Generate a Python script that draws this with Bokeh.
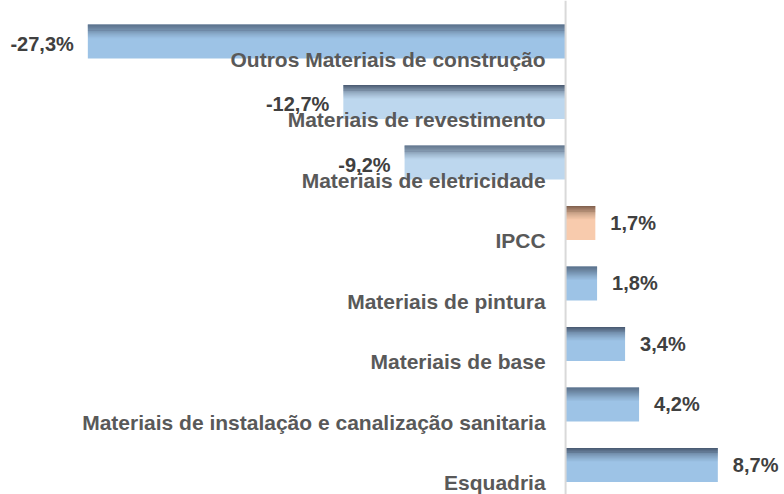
import numpy as np
from bokeh.plotting import figure
from bokeh.models import Range1d, Span
from bokeh.core.properties import value
from bokeh.embed import file_html
from bokeh.resources import INLINE

categories = ["Outros Materiais de construção", "Materiais de revestimento",
              "Materiais de eletricidade", "IPCC", "Materiais de pintura",
              "Materiais de base", "Materiais de instalação e canalização sanitaria",
              "Esquadria"]
values = [-27.3, -12.7, -9.2, 1.7, 1.8, 3.4, 4.2, 8.7]
labels = ["-27,3%", "-12,7%", "-9,2%", "1,7%", "1,8%", "3,4%", "4,2%", "8,7%"]
base_colors = ["#9dc3e6", "#bdd7ee", "#bdd7ee", "#f8cbad", "#9dc3e6", "#9dc3e6", "#9dc3e6", "#9dc3e6"]
top_colors = ["#44546a", "#44546a", "#44546a", "#7a5a48", "#44546a", "#44546a", "#44546a", "#44546a"]

ys = np.arange(len(categories))
H = 0.56

p = figure(width=784, height=494, output_backend="svg", toolbar_location=None,
           x_range=Range1d(-32.29, 12.51), y_range=Range1d(7.488, -0.678),
           min_border=0, outline_line_color=None)
p.axis.visible = False
p.grid.visible = False

# zero axis
p.add_layout(Span(location=0, dimension="height", line_color="#d9d9d9", line_width=2))

# base bars
p.hbar(y=ys, left=0, right=values, height=H, fill_color=base_colors, line_color=None)

# top gradient band
n = 14
band = 0.40 * H
s = band / n
for k in range(n):
    a = 0.92 * (1 - k / n) ** 1.3
    yk = ys - H / 2 + (k + 0.5) * s
    p.hbar(y=yk, left=0, right=values, height=s * 1.02, fill_color=top_colors,
           fill_alpha=a, line_color=None)

# category labels
p.text(x=[0] * len(ys), y=ys + 0.29, text=categories, x_offset=-20,
       text_align="right", text_baseline="middle", text_font=value("Liberation Sans"),
       text_font_style="bold", text_font_size="21px", text_color="#595959")

# value labels
vals = np.array(values)
pos = vals > 0
p.text(x=vals[pos], y=ys[pos] + 0.0, text=[l for l, v in zip(labels, values) if v > 0],
       x_offset=15, text_align="left", text_baseline="middle",
       text_font=value("Liberation Sans"), text_font_style="bold",
       text_font_size="20px", text_color="#404040")
p.text(x=vals[~pos], y=ys[~pos] + 0.04, text=[l for l, v in zip(labels, values) if v < 0],
       x_offset=-14, text_align="right", text_baseline="middle",
       text_font=value("Liberation Sans"), text_font_style="bold",
       text_font_size="20px", text_color="#404040")

open("out.html", "w").write(file_html(p, INLINE))
